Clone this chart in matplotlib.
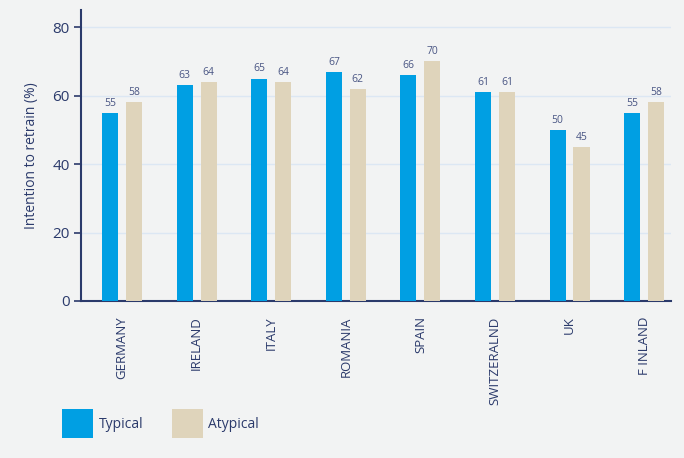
import matplotlib
matplotlib.use("Agg")
import matplotlib.pyplot as plt
import numpy as np

countries = ["GERMANY", "IRELAND", "ITALY", "ROMANIA", "SPAIN", "SWITZERALND", "UK", "F INLAND"]
typical = [55, 63, 65, 67, 66, 61, 50, 55]
atypical = [58, 64, 64, 62, 70, 61, 45, 58]
series_names = ["Typical", "Atypical"]
yticks = [0, 20, 40, 60, 80]

plt.rcParams['font.family'] = ['Open Sans', 'DejaVu Sans']
navy = "#2b3a6b"
bg = "#f2f3f3"
c_typ = "#009fe3"
c_atyp = "#dfd4bb"

fig = plt.figure(figsize=(6.84, 4.58), dpi=100, facecolor=bg)
ax = fig.add_axes([0.1184, 0.3428, 0.981 - 0.1184, 0.978 - 0.3428])
ax.set_facecolor(bg)

x = np.arange(len(countries))
w = 0.215
off = 0.16
b1 = ax.bar(x - off, typical, w, color=c_typ, label=series_names[0], zorder=3)
b2 = ax.bar(x + off, atypical, w, color=c_atyp, label=series_names[1], zorder=3)
for bars in (b1, b2):
    ax.bar_label(bars, padding=3, fontsize=7.5, color="#4a5684")

ax.set_ylim(0, 85)
ax.set_xlim(-0.55, len(countries) - 1 + 0.36)
ax.set_yticks(yticks)
ax.set_yticklabels([str(v) for v in yticks], fontsize=11, color=navy)
ax.yaxis.grid(True, color="#dce7f3", linewidth=1, zorder=0)
ax.set_axisbelow(True)
ax.set_xticks(x)
ax.set_xticklabels(countries, rotation=90, fontsize=9.5, color=navy, va="top")
ax.tick_params(axis="x", length=0, pad=11)
ax.tick_params(axis="y", length=5, width=1.2, color=navy, pad=3)
ax.set_ylabel("Intention to retrain (%)", fontsize=10, color=navy, labelpad=10)
for s in ["top", "right"]:
    ax.spines[s].set_visible(False)
for s in ["left", "bottom"]:
    ax.spines[s].set_color(navy)
    ax.spines[s].set_linewidth(1.5)

leg = fig.legend(handles=[b1, b2], labels=series_names, loc="lower left",
                 bbox_to_anchor=(0.073, 0.016), ncol=2, frameon=False,
                 fontsize=10, handlelength=2.2, handleheight=2.8,
                 handletextpad=0.4, columnspacing=2.1, labelcolor=navy)

fig.savefig("out.png", dpi=100, facecolor=bg)
